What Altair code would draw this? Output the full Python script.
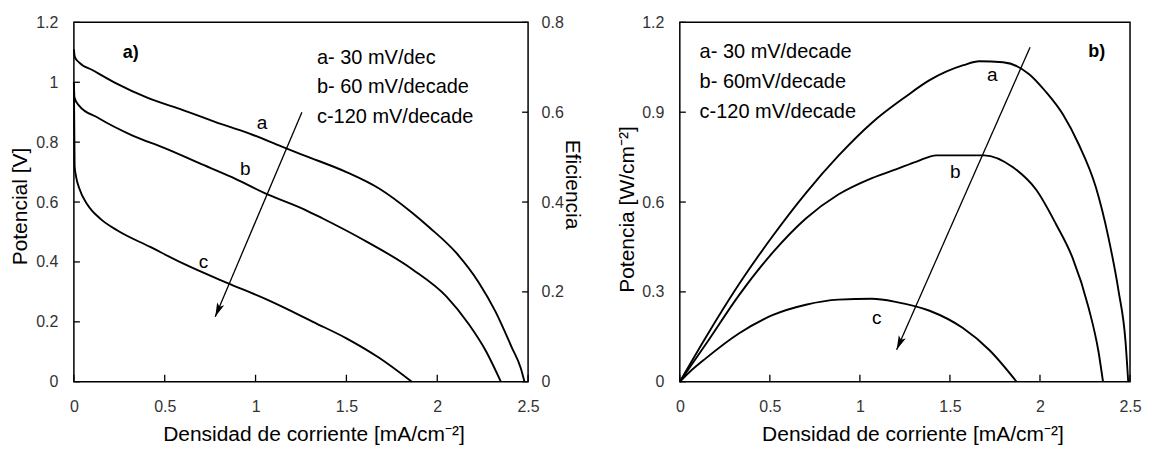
import math
import altair as alt
import pandas as pd

FONT = "Liberation Sans"

# ---------------- data: panel a) potential vs current density ----------------
pa_x = [0, 0.005, 0.027, 0.104, 0.23, 0.41, 0.6, 0.78, 0.96, 1.145, 1.27, 1.5, 1.68, 1.86, 1.957, 2.105, 2.23, 2.32, 2.41, 2.46, 2.48]
pa_y = [1.11, 1.085, 1.067, 1.04, 0.997, 0.947, 0.907, 0.867, 0.83, 0.785, 0.755, 0.70, 0.645, 0.565, 0.515, 0.43, 0.33, 0.235, 0.115, 0.045, 0.0]

pb_x = [0, 0.003, 0.027, 0.137, 0.32, 0.5, 0.69, 0.87, 1.05, 1.27, 1.37, 1.59, 1.864, 2.05, 2.176, 2.27, 2.35]
pb_y = [1.0, 0.95, 0.923, 0.88, 0.823, 0.78, 0.73, 0.683, 0.63, 0.575, 0.545, 0.475, 0.375, 0.285, 0.19, 0.1, 0.0]

pc_x = [0, 0.004, 0.012, 0.03, 0.076, 0.148, 0.24, 0.42, 0.6, 0.843, 1.06, 1.2, 1.316, 1.5, 1.68, 1.86]
pc_y = [1.0, 0.72, 0.685, 0.645, 0.59, 0.543, 0.505, 0.45, 0.395, 0.33, 0.275, 0.235, 0.2, 0.145, 0.08, 0.0]

# ---------------- data: panel b) power vs current density ----------------
wa_x = [0, 0.144, 0.33, 0.514, 0.7, 0.88, 1.067, 1.25, 1.387, 1.575, 1.663, 1.795, 1.94, 2.03, 2.127, 2.215, 2.31, 2.38, 2.436, 2.475, 2.49]
wa_y = [0, 0.148, 0.327, 0.485, 0.63, 0.754, 0.865, 0.95, 1.007, 1.057, 1.07, 1.067, 1.027, 0.97, 0.893, 0.793, 0.65, 0.482, 0.304, 0.134, 0.0]

wb_x = [0, 0.144, 0.33, 0.514, 0.7, 0.88, 1.067, 1.204, 1.315, 1.425, 1.69, 1.85, 1.98, 2.09, 2.18, 2.27, 2.325, 2.35]
wb_y = [0, 0.125, 0.29, 0.43, 0.545, 0.625, 0.68, 0.71, 0.735, 0.756, 0.756, 0.716, 0.64, 0.525, 0.415, 0.247, 0.1, 0.0]

wc_x = [0, 0.05, 0.144, 0.33, 0.514, 0.7, 0.88, 1.067, 1.204, 1.387, 1.57, 1.72, 1.87]
wc_y = [0, 0.03, 0.078, 0.162, 0.222, 0.257, 0.274, 0.277, 0.266, 0.237, 0.18, 0.105, 0.0]

# ticks
x_ticks = [0, 0.5, 1, 1.5, 2, 2.5]
pot_ticks = [0, 0.2, 0.4, 0.6, 0.8, 1.0, 1.2]
eff_ticks = [0, 0.2, 0.4, 0.6, 0.8]
pow_ticks = [0, 0.3, 0.6, 0.9, 1.2]

# annotations
left_legend = ["a- 30 mV/dec", "b- 60 mV/decade", "c-120 mV/decade"]
left_legend_x = [1.338, 1.338, 1.338]
left_legend_y = [1.08, 0.983, 0.883]
right_legend = ["a- 30 mV/decade", "b- 60mV/decade", "c-120 mV/decade"]
right_legend_x = [0.11, 0.11, 0.11]
right_legend_y = [1.10, 1.0, 0.90]

left_letters = ["a", "b", "c"]
left_letters_x = [1.036, 0.943, 0.713]
left_letters_y = [0.863, 0.71, 0.40]
right_letters = ["a", "b", "c"]
right_letters_x = [1.735, 1.53, 1.094]
right_letters_y = [1.023, 0.70, 0.214]

left_tag = ("a)", 0.3125, 1.097)
right_tag = ("b)", 2.315, 1.10)

left_arrow = (1.255, 0.90, 0.778, 0.217)
right_arrow = (1.945, 1.117, 1.204, 0.107)

# ---------------- layout ----------------
W1, H1 = 455, 360
W2, H2 = 451, 360
SPACING = 152
XMAX = 2.5

ARROW_PATH = "M0,0 L-0.38,1.4 L0,1.1 L0.38,1.4 Z"


def curves_df(series):
    rows = []
    for name, xs, ys in series:
        for i, (x, y) in enumerate(zip(xs, ys)):
            rows.append({"curve": name, "x": x, "y": y, "order": i})
    return pd.DataFrame(rows)


def arrow_angle(arrow, W, H, ymax):
    x1, y1, x2, y2 = arrow
    dx = (x2 - x1) * W / XMAX
    dy = -(y2 - y1) * H / ymax
    return math.degrees(math.atan2(dx, -dy)) % 360


def panel(series, W, H, ymax, yticks, ytitle, ytitle_x, ytitle_y, xtitle_x,
          legend, lx, ly, letters, tx, ty, tag, arrow, eff=False):
    xs = alt.Scale(domain=[0, XMAX], nice=False, zero=False)
    ys = alt.Scale(domain=[0, ymax], nice=False, zero=False)

    xaxis = alt.Axis(values=x_ticks, format="~g", title="Densidad de corriente [mA/cm⁻²]",
                     labelPadding=17, titleX=xtitle_x, titleY=59,
                     titleBaseline="alphabetic", titleAlign="center")
    yaxis = alt.Axis(values=yticks, format="~g", title=ytitle, orient="left",
                     labelPadding=16, titleX=ytitle_x, titleY=ytitle_y, titleAngle=270,
                     titleBaseline="alphabetic", titleAlign="center")

    def X(f):
        return alt.X(f, scale=xs, axis=xaxis)

    def Y(f):
        return alt.Y(f, scale=ys, axis=yaxis)

    cdf = curves_df(series)
    lines = alt.Chart(cdf).mark_line(color="black", strokeWidth=1.9, interpolate="monotone").encode(
        x=X("x:Q"), y=Y("y:Q"), detail="curve:N", order="order:Q",
    )

    ytick_layer = alt.Chart(pd.DataFrame({"v": yticks})).mark_rule(color="black", strokeWidth=1.3).encode(
        y=Y("v:Q"), x=alt.value(0), x2=alt.value(6),
    )
    xtick_layer = alt.Chart(pd.DataFrame({"v": x_ticks})).mark_rule(color="black", strokeWidth=1.3).encode(
        x=X("v:Q"), y=alt.value(H), y2=alt.value(H - 7),
    )

    leg = alt.Chart(pd.DataFrame({"t": legend, "x": lx, "y": ly})).mark_text(
        align="left", baseline="middle", font=FONT, fontSize=20, color="black").encode(
        x=X("x:Q"), y=Y("y:Q"), text="t:N")

    lets = alt.Chart(pd.DataFrame({"t": letters, "x": tx, "y": ty})).mark_text(
        align="center", baseline="middle", font=FONT, fontSize=19, color="black").encode(
        x=X("x:Q"), y=Y("y:Q"), text="t:N")

    tagc = alt.Chart(pd.DataFrame({"t": [tag[0]], "x": [tag[1]], "y": [tag[2]]})).mark_text(
        align="center", baseline="middle", font=FONT, fontSize=18, fontWeight="bold", color="black").encode(
        x=X("x:Q"), y=Y("y:Q"), text="t:N")

    adf = pd.DataFrame({"x1": [arrow[0]], "y1": [arrow[1]], "x2": [arrow[2]], "y2": [arrow[3]]})
    arr = alt.Chart(adf).mark_rule(color="black", strokeWidth=1.3).encode(
        x=X("x1:Q"), y=Y("y1:Q"), x2="x2:Q", y2="y2:Q")
    head = alt.Chart(adf).mark_point(shape=ARROW_PATH, filled=True, color="black", opacity=1,
                                     size=400, angle=arrow_angle(arrow, W, H, ymax)).encode(
        x=X("x2:Q"), y=Y("y2:Q"))

    inner = alt.layer(lines, ytick_layer, xtick_layer, leg, lets, tagc, arr, head)

    if eff:
        es = alt.Scale(domain=[0, 0.8], nice=False, zero=False)
        eff_layer = alt.Chart(pd.DataFrame({"v": eff_ticks})).mark_rule(color="black", strokeWidth=1.3).encode(
            y=alt.Y("v:Q", scale=es,
                    axis=alt.Axis(orient="right", values=eff_ticks, format="~g", title="Eficiencia",
                                  labelPadding=13, titleX=37, titleY=162, titleAngle=90,
                                  titleBaseline="alphabetic", titleAlign="center")),
            x=alt.value(W), x2=alt.value(W - 6),
        )
        out = alt.layer(inner, eff_layer).resolve_scale(y="independent")
    else:
        out = inner
    return out.properties(width=W, height=H)


left = panel(
    [("a", pa_x, pa_y), ("b", pb_x, pb_y), ("c", pc_x, pc_y)],
    W1, H1, 1.2, pot_ticks, "Potencial [V]", -47.5, 184, 240,
    left_legend, left_legend_x, left_legend_y,
    left_letters, left_letters_x, left_letters_y,
    left_tag, left_arrow, eff=True,
)

right = panel(
    [("a", wa_x, wa_y), ("b", wb_x, wb_y), ("c", wc_x, wc_y)],
    W2, H2, 1.2, pow_ticks, "Potencia [W/cm⁻²]", -46, 187, 233,
    right_legend, right_legend_x, right_legend_y,
    right_letters, right_letters_x, right_letters_y,
    right_tag, right_arrow, eff=False,
)

chart = alt.hconcat(left, right, spacing=SPACING, bounds="flush").properties(
    padding={"left": 0, "top": 5, "right": 0, "bottom": 0},
    background="white",
).configure_view(
    stroke="black", strokeWidth=1.5
).configure_axis(
    grid=False, domain=False, ticks=False,
    labelFont=FONT, labelFontSize=16, labelColor="#333333",
    titleFont=FONT, titleFontSize=21, titleFontWeight="normal", titleColor="black",
    labelFlush=False, labelOverlap=False,
)

chart.save("out.html", embed_options={"renderer": "svg", "actions": False})
